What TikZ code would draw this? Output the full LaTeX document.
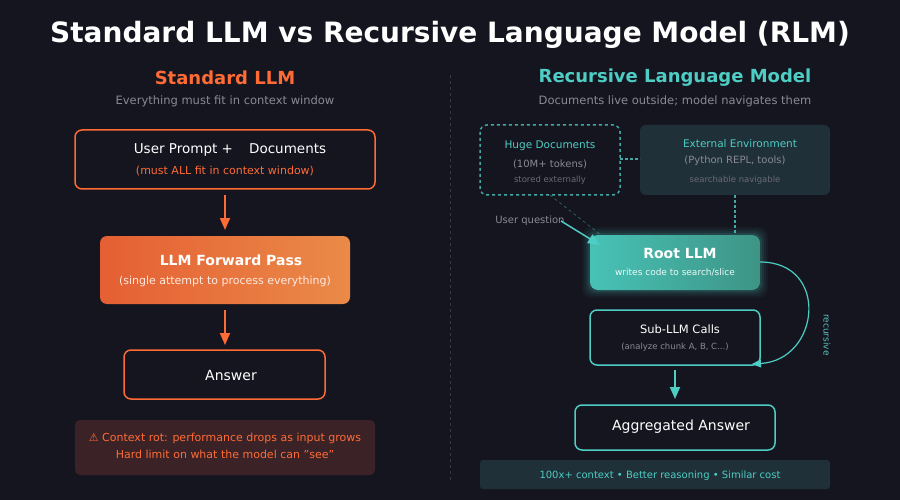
\documentclass[tikz,border=0pt]{standalone}
\usepackage{fontspec}
\setmainfont{DejaVu Sans}
\usetikzlibrary{arrows.meta}
\definecolor{bg}{HTML}{15151F}
\definecolor{org}{HTML}{FF6B35}
\definecolor{teal}{HTML}{4ECDC4}
\definecolor{gry}{HTML}{8A8A96}
\definecolor{dgry}{HTML}{6A6A76}
\definecolor{envbg}{HTML}{1F3038}
\definecolor{warnbg}{HTML}{3A2226}
\definecolor{fpl}{HTML}{E55F33}
\definecolor{fpr}{HTML}{EA8A48}
\definecolor{rl}{HTML}{48C2B6}
\definecolor{rr}{HTML}{3D9485}
\tikzset{
 fs/.style={font=\fontsize{#1}{#1}\selectfont},
 t/.style={inner sep=0pt, anchor=center},
 obox/.style={draw=org, line width=1.5pt, rounded corners=7pt},
 tbox/.style={draw=teal, line width=1.5pt, rounded corners=7pt},
 oarr/.style={draw=org, line width=1.8pt, -{Triangle[length=12pt,width=10pt]}},
 tarr/.style={draw=teal, line width=1.8pt, -{Triangle[length=12pt,width=10pt]}},
}
\begin{document}
\begin{tikzpicture}[x=1pt,y=-1pt]
\fill[bg] (0,0) rectangle (900,500);
\useasboundingbox (0,0) rectangle (900,500);
\node[t,fs=28,white] (title) at (450,35) {\bfseries Standard LLM vs Recursive Language Model (RLM)};
% left
\node[t,fs=18,org] (lt) at (225,78) {\bfseries Standard LLM};
\node[t,fs=11.5,gry] (ls) at (225,101) {Everything must fit in context window};
\draw[obox] (75,130) rectangle (375,189);
\node[t,fs=13.5,white] (up) at (230,150) {User Prompt +\hspace{1.2em}Documents};
\node[t,fs=11,org] (upn) at (225,171) {(must ALL fit in context window)};
\coordinate (a1) at (225,195); \coordinate (a2) at (225,230);
\draw[oarr] (a1) -- (a2);
\shade[left color=fpl, right color=fpr, rounded corners=7pt] (100,236) rectangle (350,304);
\node[t,fs=14,white] (fp) at (231,260) {\bfseries LLM Forward Pass};
\node[t,fs=11,white!85!org] (fpn) at (225,281) {(single attempt to process everything)};
\coordinate (a3) at (225,310); \coordinate (a4) at (225,345);
\draw[oarr] (a3) -- (a4);
\draw[obox] (124,350) rectangle (325,399);
\node[t,fs=14,white] (ans) at (231,375) {Answer};
\fill[warnbg, rounded corners=5pt] (75,420) rectangle (375,475);
\node[t,fs=11,org] (w1) at (225,438) {⚠ Context rot: performance drops as input grows};
\node[t,fs=11,org] (w2) at (225,454) {Hard limit on what the model can \char34 see\char34};
% divider
\draw[gry!30!bg, dashed, line width=1pt] (450,75) -- (450,480);
% right
\node[t,fs=18,teal] (rt) at (675,78) {\bfseries Recursive Language Model};
\node[t,fs=11.5,gry] (rs) at (675,101) {Documents live outside; model navigates them};
\draw[teal!80!bg, dashed, line width=1.5pt, rounded corners=7pt] (480,125) rectangle (620,195);
\node[t,fs=10.5,teal] (hd) at (550,146) {Huge Documents};
\node[t,fs=10,gry] (hd2) at (550,164) {(10M+ tokens)};
\node[t,fs=8.5,dgry] (hd3) at (550,180) {stored externally};
\fill[envbg, rounded corners=6pt] (640,125) rectangle (830,195);
\node[t,fs=10.5,teal] (ee) at (740,144) {External Environment};
\node[t,fs=10,gry] (ee2) at (735,161) {(Python REPL, tools)};
\node[t,fs=8.5,dgry] (ee3) at (735,180) {searchable navigable};
\draw[teal!80!bg, dash pattern=on 2.5pt off 2.5pt, line width=1.5pt] (620,159) -- (640,159);
\draw[teal!80!bg, dash pattern=on 2.5pt off 2.5pt, line width=1.5pt] (735,195) -- (735,235);
\draw[teal!50!bg, dashed, line width=0.6pt] (550,195) -- (620,250);
% root glow
\foreach \i/\o in {8/0.04,6/0.06,4/0.08,2/0.12}{
 \fill[teal, opacity=\o, rounded corners=9pt] (590-\i,235-\i) rectangle (760+\i,290+\i);}
\shade[left color=rl, right color=rr, rounded corners=8pt] (590,235) rectangle (760,290);
\node[t,fs=14,white] (root) at (680,253) {\bfseries Root LLM};
\node[t,fs=9,white!90!teal] (root2) at (675,272) {writes code to search/slice};
\node[t,fs=10,gry] (uq) at (530,221) {User question};
\coordinate (q1) at (561,221); \coordinate (q2) at (600,245);
\draw[tarr, line width=1.5pt] (q1) -- (q2);
\draw[tbox] (590,310) rectangle (760,365);
\node[t,fs=11.5,white] (sub) at (680,329) {Sub-LLM Calls};
\node[t,fs=8.5,gry] (sub2) at (675,347) {(analyze chunk A, B, C...)};
\coordinate (c1) at (760,262); \coordinate (c2) at (752,364);
\draw[teal, line width=1.2pt, -{Triangle[length=9pt,width=8pt]}] (c1) .. controls (830,262) and (820,360) .. (c2);
\node[t,fs=9,teal!80!gry, rotate=-90] (rec) at (827,335) {recursive};
\coordinate (s1) at (675,370); \coordinate (s2) at (675,399);
\draw[tarr] (s1) -- (s2);
\draw[tbox] (575,405) rectangle (775,450);
\node[t,fs=14,white] (agg) at (681,427) {Aggregated Answer};
\fill[envbg, rounded corners=3pt] (480,460) rectangle (830,489);
\node[t,fs=10,teal] (bot) at (660,476) {100x+ context • Better reasoning • Similar cost};
\end{tikzpicture}
\end{document}
